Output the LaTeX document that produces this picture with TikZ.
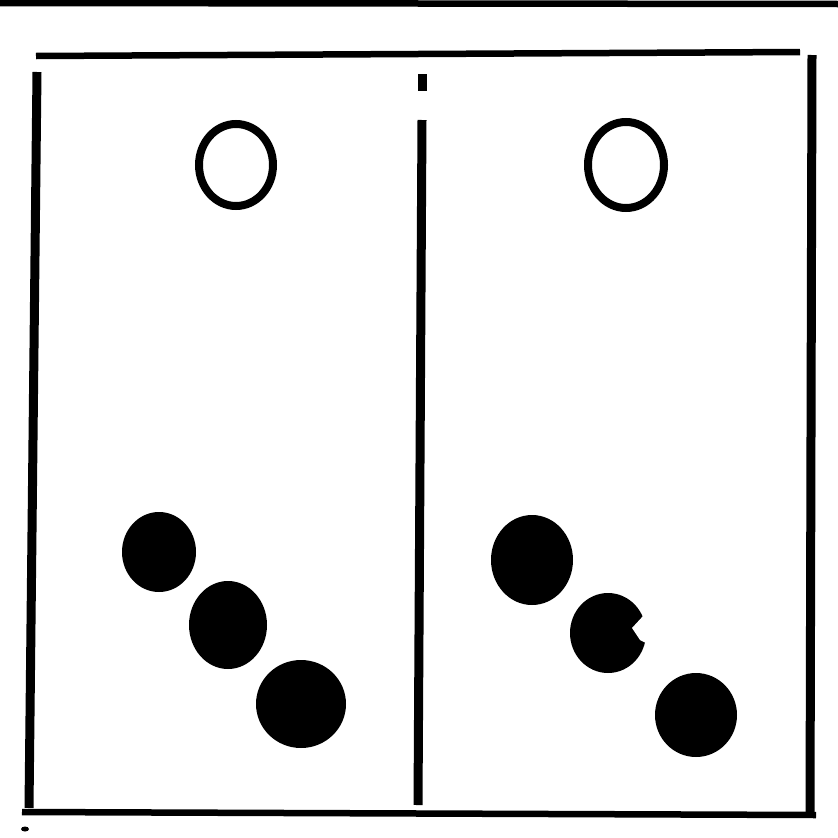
\documentclass[tikz,border=0pt]{standalone}
\begin{document}
\begin{tikzpicture}[x=0.03cm,y=-0.03cm,
  rule/.style={line width=6.5*0.03cm},
  edge/.style={line width=9*0.03cm},
  ring/.style={line width=8*0.03cm},
  dot/.style={fill=black}]
\useasboundingbox (0,0) rectangle (838,838);
% top rule
\draw[rule] (0,3) -- (838,4);
% box
\draw[rule] (36,56) -- (800,52);
\draw[edge] (37,72) -- (29,808);
\draw[rule] (22,812) -- (816,815);
\draw[edge] (812,55) -- (810,812);
% divider
\draw[edge] (422,74) -- (422,91);
\draw[edge] (422,120) -- (418,805);
% specks
\fill (25,829) ellipse (4 and 2.5);
% open circles
\draw[ring] (236,165) ellipse (37 and 41);
\draw[ring] (626,165) ellipse (38 and 43);
% filled circles left
\fill[dot] (159,552) ellipse (37 and 40);
\fill[dot] (228,625) ellipse (39 and 44);
\fill[dot] (301,704) ellipse (45 and 44);
% filled circles right
\fill[dot] (532,560) ellipse (41 and 45);
\fill[dot] (608,633) ellipse (38 and 40);
\fill[white] (644,615) -- (632,628) -- (640,640) -- (650,645) -- (652,610) -- cycle;
\fill[dot] (696,715) ellipse (41 and 42);
\end{tikzpicture}
\end{document}
